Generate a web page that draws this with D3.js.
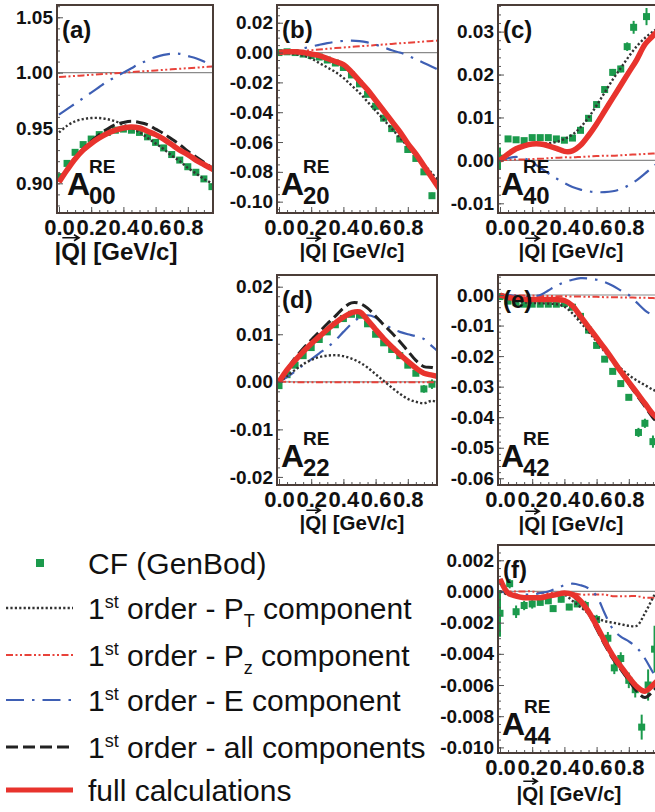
<!DOCTYPE html>
<html>
<head>
  <meta charset="utf-8">
  <title>A^RE coefficients vs |Q|</title>
  <script src="https://cdn.jsdelivr.net/npm/d3@7"></script>
  <style>
    body { margin: 0; background: #fff; }
    svg { display: block; }
  </style>
</head>
<body>
<div id="container"></div>
<script>
// q grid for the model curves [GeV/c]
const qGrid = [0, 0.05, 0.1, 0.15, 0.2, 0.25, 0.3, 0.35, 0.4, 0.45, 0.5, 0.55, 0.6, 0.65, 0.7, 0.75, 0.8, 0.85, 0.9, 0.95, 1.0];
const cfGrid = [0, 0.05, 0.1, 0.15, 0.2, 0.25, 0.3, 0.35, 0.4, 0.45, 0.5, 0.55, 0.6, 0.65, 0.7, 0.75, 0.8, 0.85, 0.9, 0.95];
const xTicks = [0, 0.2, 0.4, 0.6, 0.8];
const xTickLabels = ["0.0", "0.2", "0.4", "0.6", "0.8"];

// (a) A00
const aFull = [0.901, 0.912, 0.922, 0.930, 0.936, 0.941, 0.945, 0.948, 0.950, 0.951, 0.950, 0.947, 0.944, 0.940, 0.935, 0.930, 0.926, 0.921, 0.917, 0.913, 0.909];
const aAll  = [0.902, 0.913, 0.923, 0.931, 0.938, 0.944, 0.949, 0.953, 0.955, 0.956, 0.955, 0.953, 0.949, 0.945, 0.940, 0.935, 0.929, 0.924, 0.919, 0.914, 0.909];
const aPt   = [0.946, 0.952, 0.956, 0.958, 0.959, 0.959, 0.958, 0.956, 0.953, 0.950, 0.946, 0.941, 0.936, 0.931, 0.925, 0.920, 0.914, 0.909, 0.904, 0.900, 0.896];
const aPz   = [0.996, 0.9965, 0.997, 0.9975, 0.998, 0.9985, 0.999, 0.9995, 1.000, 1.0005, 1.001, 1.0015, 1.002, 1.0025, 1.003, 1.0035, 1.004, 1.0045, 1.005, 1.0055, 1.006];
const aE    = [0.962, 0.967, 0.972, 0.977, 0.982, 0.987, 0.992, 0.996, 1.000, 1.004, 1.008, 1.011, 1.014, 1.016, 1.017, 1.017, 1.015, 1.013, 1.010, 1.006, 1.002];
const aCf    = [0.906, 0.918, 0.928, 0.935, 0.940, 0.944, 0.946, 0.948, 0.949, 0.948, 0.946, 0.942, 0.937, 0.932, 0.926, 0.921, 0.915, 0.910, 0.904, 0.897];
const aCfErr = [0.002, 0.001, 0.001, 0.001, 0.001, 0.001, 0.001, 0.001, 0.001, 0.001, 0.001, 0.001, 0.001, 0.001, 0.001, 0.001, 0.001, 0.001, 0.0015, 0.002];
const aTicks = [0.90, 0.95, 1.00, 1.05];

// (b) A20
const bFull = [0.000, 0.0005, 0.0005, 0.000, -0.001, -0.002, -0.004, -0.006, -0.008, -0.013, -0.019, -0.025, -0.032, -0.039, -0.046, -0.053, -0.061, -0.068, -0.076, -0.084, -0.092];
const bAll  = [0.000, 0.0004, 0.0004, -0.0002, -0.0012, -0.0025, -0.0045, -0.0065, -0.009, -0.0135, -0.0195, -0.0255, -0.0325, -0.0395, -0.0465, -0.0535, -0.0612, -0.0685, -0.0762, -0.0842, -0.0922];
const bPt   = [0.000, 0.000, -0.001, -0.002, -0.004, -0.007, -0.010, -0.013, -0.017, -0.022, -0.027, -0.033, -0.039, -0.045, -0.051, -0.057, -0.063, -0.069, -0.075, -0.081, -0.087];
const bPz   = [0.000, 0.0004, 0.0008, 0.0012, 0.0016, 0.002, 0.0025, 0.003, 0.0034, 0.0038, 0.0042, 0.0046, 0.005, 0.0054, 0.0058, 0.0062, 0.0066, 0.007, 0.0074, 0.0078, 0.0082];
const bE    = [0.000, 0.0005, 0.0015, 0.0028, 0.004, 0.0052, 0.0063, 0.0072, 0.0078, 0.008, 0.0077, 0.0068, 0.0053, 0.0035, 0.0015, 0.000, -0.002, -0.0045, -0.007, -0.0095, -0.012];
const bCf    = [0.000, 0.0005, 0.000, -0.001, -0.002, -0.003, -0.005, -0.007, -0.010, -0.015, -0.021, -0.028, -0.036, -0.044, -0.051, -0.058, -0.065, -0.071, -0.080, -0.096];
const bCfErr = [0.001, 0.001, 0.001, 0.001, 0.001, 0.001, 0.001, 0.001, 0.001, 0.001, 0.001, 0.001, 0.001, 0.001, 0.001, 0.001, 0.001, 0.001, 0.0015, 0.002];
const bTicks = [-0.10, -0.08, -0.06, -0.04, -0.02, 0.00, 0.02];

// (c) A40
const cFull = [0.000, 0.0015, 0.0027, 0.0034, 0.0038, 0.0038, 0.0034, 0.0028, 0.0021, 0.0022, 0.0035, 0.0058, 0.0085, 0.0115, 0.0145, 0.0175, 0.0205, 0.0235, 0.027, 0.029, 0.031];
const cAll  = [0.0001, 0.0016, 0.0028, 0.0035, 0.0039, 0.0039, 0.0035, 0.0029, 0.0023, 0.0024, 0.0037, 0.006, 0.0088, 0.0118, 0.0148, 0.0178, 0.0208, 0.0238, 0.0268, 0.0292, 0.0312];
const cPt   = [0.0003, 0.0015, 0.0026, 0.0034, 0.0038, 0.0039, 0.004, 0.0043, 0.005, 0.006, 0.0077, 0.01, 0.0128, 0.0158, 0.0188, 0.0215, 0.0242, 0.0266, 0.0285, 0.03, 0.0312];
const cPz   = [0.000, 0.0001, 0.0002, 0.0002, 0.0003, 0.0004, 0.0005, 0.0006, 0.0007, 0.0007, 0.0008, 0.0009, 0.001, 0.0011, 0.0011, 0.0012, 0.0013, 0.0014, 0.0015, 0.0016, 0.0017];
const cE    = [0.000, 0.0005, 0.0008, 0.0005, -0.0005, -0.0017, -0.003, -0.0042, -0.0053, -0.0062, -0.0068, -0.0072, -0.0074, -0.0074, -0.0072, -0.0067, -0.0058, -0.0046, -0.0031, -0.0015, 0.000];
const cCfQ   = [0.0, 0.05, 0.1, 0.15, 0.2, 0.25, 0.3, 0.35, 0.4, 0.45, 0.5, 0.55, 0.6, 0.65, 0.7, 0.75, 0.79, 0.83, 0.91];
const cCf    = [0.0005, 0.005, 0.0048, 0.0046, 0.0053, 0.0053, 0.0053, 0.005, 0.0047, 0.0052, 0.007, 0.0098, 0.013, 0.0165, 0.0205, 0.0213, 0.0265, 0.031, 0.0335];
const cCfErr = [0.0025, 0.0005, 0.0004, 0.0004, 0.0004, 0.0004, 0.0004, 0.0004, 0.0004, 0.0004, 0.0005, 0.0005, 0.0006, 0.0006, 0.0008, 0.0008, 0.001, 0.0015, 0.002];
const cTicks = [-0.01, 0.00, 0.01, 0.02, 0.03];

// (d) A22
const dFull = [0.000, 0.0025, 0.0045, 0.0063, 0.008, 0.0095, 0.011, 0.0124, 0.0136, 0.0145, 0.0147, 0.013, 0.011, 0.0091, 0.0074, 0.0058, 0.0043, 0.0029, 0.0018, 0.0014, 0.001];
const dAll  = [0.000, 0.0026, 0.005, 0.007, 0.0088, 0.0105, 0.0122, 0.0138, 0.0155, 0.0166, 0.0165, 0.0155, 0.0138, 0.012, 0.0103, 0.0085, 0.0065, 0.0045, 0.0032, 0.003, 0.0025];
const dPt   = [0.000, 0.0012, 0.0025, 0.0037, 0.0046, 0.0052, 0.0055, 0.0056, 0.0054, 0.0049, 0.0041, 0.003, 0.0016, 0.0002, -0.0012, -0.0025, -0.0036, -0.0042, -0.0045, -0.004, -0.0045];
const dPz   = [0.000, 0.000, -0.0001, -0.0001, -0.0001, -0.0001, -0.0001, -0.0001, -0.0001, -0.0001, -0.0001, -0.0001, -0.0001, -0.0001, -0.0001, -0.0001, -0.0001, -0.0001, -0.0001, -0.0001, -0.0001];
const dE    = [0.000, 0.001, 0.0022, 0.0035, 0.0047, 0.006, 0.0072, 0.0087, 0.0105, 0.0122, 0.0135, 0.014, 0.0135, 0.0123, 0.0112, 0.0105, 0.01, 0.0096, 0.009, 0.0075, 0.006];
const dCf    = [-0.0008, 0.0015, 0.0035, 0.0055, 0.0072, 0.0089, 0.0105, 0.012, 0.0133, 0.0142, 0.014, 0.0122, 0.01, 0.0082, 0.0068, 0.0055, 0.0035, 0.0018, -0.0015, -0.0005];
const dCfErr = [0.0007, 0.0003, 0.0003, 0.0003, 0.0003, 0.0003, 0.0003, 0.0003, 0.0003, 0.0003, 0.0003, 0.0003, 0.0003, 0.0003, 0.0004, 0.0004, 0.0005, 0.0006, 0.0008, 0.001];
const dTicks = [-0.02, -0.01, 0.00, 0.01, 0.02];

// (e) A42
const eFull = [0.000, -0.0008, -0.0012, -0.0014, -0.0015, -0.0015, -0.0015, -0.0015, -0.0018, -0.0035, -0.007, -0.0105, -0.014, -0.0175, -0.0212, -0.025, -0.0285, -0.032, -0.0355, -0.039, -0.041];
const eAll  = [0.000, -0.0009, -0.0013, -0.0015, -0.0016, -0.0016, -0.0016, -0.0016, -0.0019, -0.0036, -0.0071, -0.0106, -0.0141, -0.0177, -0.0215, -0.0254, -0.0291, -0.0328, -0.0365, -0.0402, -0.043];
const ePt   = [0.000, -0.0012, -0.002, -0.0024, -0.0026, -0.0027, -0.0028, -0.003, -0.0038, -0.006, -0.009, -0.012, -0.0152, -0.0185, -0.0215, -0.024, -0.0262, -0.028, -0.0295, -0.031, -0.032];
const ePz   = [0.000, -0.0001, -0.0001, -0.0002, -0.0002, -0.0003, -0.0003, -0.0004, -0.0004, -0.0005, -0.0005, -0.0006, -0.0006, -0.0007, -0.0007, -0.0008, -0.0008, -0.0009, -0.0009, -0.001, -0.0011];
const eE    = [0.000, 0.000, -0.0003, -0.0005, -0.0004, 0.000, 0.0015, 0.003, 0.0042, 0.005, 0.0055, 0.0054, 0.005, 0.0042, 0.003, 0.0015, 0.000, -0.0025, -0.005, -0.0068, -0.0085];
const eCfQ   = [0.0, 0.05, 0.1, 0.15, 0.2, 0.25, 0.3, 0.35, 0.4, 0.45, 0.5, 0.55, 0.6, 0.65, 0.7, 0.75, 0.8, 0.86, 0.9, 0.95];
const eCf    = [-0.0005, -0.002, -0.0025, -0.003, -0.003, -0.003, -0.003, -0.003, -0.0028, -0.004, -0.007, -0.0115, -0.0165, -0.021, -0.025, -0.029, -0.0335, -0.045, -0.042, -0.048];
const eCfErr = [0.0005, 0.0004, 0.0004, 0.0004, 0.0004, 0.0004, 0.0004, 0.0004, 0.0004, 0.0004, 0.0005, 0.0005, 0.0005, 0.0006, 0.0006, 0.0007, 0.0008, 0.0015, 0.0015, 0.002];
const eTicks = [-0.06, -0.05, -0.04, -0.03, -0.02, -0.01, 0.00];

// (f) A44
const fFull = [0.0008, -0.0001, -0.0003, -0.0004, -0.0004, -0.0004, -0.0003, -0.0002, -0.0001, -0.0002, -0.0006, -0.0013, -0.0022, -0.0032, -0.0041, -0.0048, -0.0055, -0.0061, -0.0064, -0.006, -0.0055];
const fAll  = [0.0008, -0.0001, -0.0003, -0.0004, -0.0004, -0.0004, -0.0003, -0.0002, -0.0001, -0.0003, -0.0007, -0.0014, -0.0024, -0.0034, -0.0043, -0.005, -0.0057, -0.0064, -0.0068, -0.0064, -0.0058];
const fPt   = [0.000, -0.0002, -0.0003, -0.0003, -0.0003, -0.0003, -0.0003, -0.0002, -0.0002, -0.0006, -0.001, -0.0014, -0.0017, -0.0019, -0.002, -0.0021, -0.0022, -0.0022, -0.0014, -0.0004, 0.0005];
const fPz   = [0.000, 0.000, 0.000, 0.000, 0.000, -0.0001, -0.0001, -0.0001, -0.0001, -0.0001, -0.0002, -0.0002, -0.0002, -0.0002, -0.0003, -0.0003, -0.0003, -0.0003, -0.0004, -0.0004, -0.0004];
const fE    = [0.000, -0.0001, -0.0002, -0.0002, -0.0002, -0.0001, 0.000, 0.0002, 0.0004, 0.0005, 0.0004, 0.0002, -0.0003, -0.0014, -0.0024, -0.0029, -0.0032, -0.0036, -0.0043, -0.0052, -0.006];
const fCfQ   = [0.0, 0.06, 0.1, 0.15, 0.2, 0.25, 0.3, 0.33, 0.38, 0.43, 0.48, 0.53, 0.6, 0.67, 0.71, 0.75, 0.8, 0.84, 0.88, 0.92, 0.96];
const fCf    = [-0.0014, 0.0005, -0.0013, -0.0009, -0.0008, -0.0007, -0.0006, -0.0011, -0.0005, -0.001, -0.0008, -0.0009, -0.0018, -0.003, -0.0049, -0.0043, -0.0057, -0.0063, -0.0087, -0.006, -0.0037];
const fCfErr = [0.0015, 0.0003, 0.0004, 0.0003, 0.0003, 0.0002, 0.0002, 0.0002, 0.0002, 0.0002, 0.0002, 0.0003, 0.0003, 0.0004, 0.0004, 0.0004, 0.0005, 0.0005, 0.0008, 0.001, 0.0015];
const fTicks = [-0.010, -0.008, -0.006, -0.004, -0.002, 0.000, 0.002];

// ---- layout / style ----
const W = 655, H = 812;
const font = "'Liberation Sans', Arial, Helvetica, sans-serif";
const pxPerQ = 161;

const lineStyle = {
  pz:   { stroke: "#e8423a", width: 2,   dash: "7,2.5,2,2.5,2,2.5" },
  e:    { stroke: "#3e5fb4", width: 2.2, dash: "18,8,2.5,8" },
  pt:   { stroke: "#333",    width: 2.4, dash: "2.2,2.2" },
  all:  { stroke: "#222",    width: 3,   dash: "12,5" },
  full: { stroke: "#e8332d", width: 5.5, dash: null }
};
const cfColor = "#1b9a4c";

const panels = [
  { id: "a", letter: "(a)", sub: "00", box: [57, 5, 213, 213], yDomain: [0.8732, 1.0611], yTicks: aTicks, yMinor: 0.01, fmt: ".2f", ref: 1.0,
    series: { pz: aPz, e: aE, pt: aPt, all: aAll, full: aFull }, cfQ: cfGrid, cf: aCf, cfErr: aCfErr, titleX: 116, titleSize: 24, titleY: 260, aX: 67 },
  { id: "b", letter: "(b)", sub: "20", box: [277, 5, 438, 213], yDomain: [-0.1076, 0.0319], yTicks: bTicks, yMinor: 0.005, fmt: ".2f", ref: 0,
    series: { pz: bPz, e: bE, pt: bPt, all: bAll, full: bFull }, cfQ: cfGrid, cf: bCf, cfErr: bCfErr, titleX: 352, titleSize: 20.5, titleY: 258, aX: 281 },
  { id: "c", letter: "(c)", sub: "40", box: [498, 5, 664, 213], yDomain: [-0.01226, 0.0362], yTicks: cTicks, yMinor: 0.002, fmt: ".2f", ref: 0,
    series: { pz: cPz, e: cE, pt: cPt, all: cAll, full: cFull }, cfQ: cCfQ, cf: cCf, cfErr: cCfErr, titleX: 571, titleSize: 20.5, titleY: 258, aX: 501 },
  { id: "d", letter: "(d)", sub: "22", box: [277, 275, 437, 485], yDomain: [-0.0217, 0.02246], yTicks: dTicks, yMinor: 0.002, fmt: ".2f", ref: 0,
    series: { pz: dPz, e: dE, pt: dPt, all: dAll, full: dFull }, cfQ: cfGrid, cf: dCf, cfErr: dCfErr, titleX: 352, titleSize: 20.5, titleY: 530, aX: 281 },
  { id: "e", letter: "(e)", sub: "42", box: [498, 275, 664, 485], yDomain: [-0.0622, 0.00655], yTicks: eTicks, yMinor: 0.002, fmt: ".2f", ref: 0,
    series: { pz: ePz, e: eE, pt: ePt, all: eAll, full: eFull }, cfQ: eCfQ, cf: eCf, cfErr: eCfErr, titleX: 571, titleSize: 20.5, titleY: 531, aX: 501 },
  { id: "f", letter: "(f)", sub: "44", box: [498, 545, 664, 753], yDomain: [-0.01036, 0.00298], yTicks: fTicks, yMinor: 0.0005, fmt: ".3f", ref: 0,
    series: { pz: fPz, e: fE, pt: fPt, all: fAll, full: fFull }, cfQ: fCfQ, cf: fCf, cfErr: fCfErr, titleX: 569, titleSize: 20.5, titleY: 801, aX: 502 }
];

const svg = d3.select("#container")
  .append("svg")
  .attr("width", W)
  .attr("height", H)
  .attr("font-family", font);

svg.append("rect").attr("width", W).attr("height", H).attr("fill", "#fff");

panels.forEach(p => {
  const [x0, y0, x1, y1] = p.box;
  const x = d3.scaleLinear().domain([-2 / pxPerQ, (x1 - x0 - 2) / pxPerQ]).range([x0, x1]);
  const y = d3.scaleLinear().domain(p.yDomain).range([y1, y0]);
  const fmt = d => d3.format(p.fmt)(d).replace("\u2212", "-");

  const g = svg.append("g").attr("class", "panel-" + p.id);

  g.append("clipPath").attr("id", "clip-" + p.id)
    .append("rect").attr("x", x0).attr("y", y0).attr("width", x1 - x0).attr("height", y1 - y0);

  const plot = g.append("g").attr("clip-path", `url(#clip-${p.id})`);

  // reference line
  plot.append("line")
    .attr("x1", x0).attr("x2", x1)
    .attr("y1", y(p.ref)).attr("y2", y(p.ref))
    .attr("stroke", "#8a8a8a").attr("stroke-width", 1.2);

  // CF points with error bars
  const pts = p.cf.map((v, i) => ({ q: p.cfQ[i], v: v, err: p.cfErr[i] }));
  plot.append("g").selectAll("line")
    .data(pts)
    .join("line")
    .attr("x1", d => x(d.q)).attr("x2", d => x(d.q))
    .attr("y1", d => y(d.v - d.err)).attr("y2", d => y(d.v + d.err))
    .attr("stroke", cfColor).attr("stroke-width", 2);
  plot.append("g").selectAll("rect")
    .data(pts)
    .join("rect")
    .attr("x", d => x(d.q) - 3.5).attr("y", d => y(d.v) - 3.5)
    .attr("width", 7).attr("height", 7)
    .attr("fill", cfColor);

  // model curves
  const line = d3.line()
    .x((d, i) => x(qGrid[i]))
    .y(d => y(d))
    .curve(d3.curveCatmullRom.alpha(0.5));

  ["pz", "e", "pt", "all", "full"].forEach(k => {
    const s = lineStyle[k];
    plot.append("path")
      .datum(p.series[k])
      .attr("d", line)
      .attr("fill", "none")
      .attr("stroke", s.stroke)
      .attr("stroke-width", s.width)
      .attr("stroke-dasharray", s.dash)
      .attr("stroke-linejoin", "round");
  });

  // axes: minor + major inward ticks
  const [lo, hi] = p.yDomain;
  const yMinor = d3.range(Math.ceil(lo / p.yMinor), Math.floor(hi / p.yMinor) + 1).map(k => k * p.yMinor);
  const xMinor = d3.range(0, Math.floor((x1 - x0 - 2) / pxPerQ / 0.05) + 1).map(k => k * 0.05);

  g.append("g")
    .attr("transform", `translate(${x0},0)`)
    .attr("color", "#555")
    .call(d3.axisLeft(y).tickValues(yMinor).tickSize(-3).tickFormat(""))
    .call(s => s.select(".domain").remove());

  g.append("g")
    .attr("transform", `translate(${x0},0)`)
    .attr("color", "#555")
    .call(d3.axisLeft(y).tickValues(p.yTicks).tickSize(-6).tickPadding(4).tickFormat(fmt))
    .call(s => s.select(".domain").remove())
    .attr("font-family", font)
    .attr("font-size", 19)
    .attr("font-weight", "bold")
    .selectAll("text").attr("fill", "#111");

  g.append("g")
    .attr("transform", `translate(0,${y1})`)
    .attr("color", "#555")
    .call(d3.axisBottom(x).tickValues(xMinor).tickSize(-3).tickFormat(""))
    .call(s => s.select(".domain").remove());

  g.append("g")
    .attr("transform", `translate(0,${y1})`)
    .attr("color", "#555")
    .call(d3.axisBottom(x).tickValues(xTicks).tickSize(-6).tickPadding(6.5).tickFormat((d, i) => xTickLabels[i]))
    .call(s => s.select(".domain").remove())
    .attr("font-family", font)
    .attr("font-size", 22)
    .attr("font-weight", "bold")
    .selectAll("text").attr("fill", "#111");

  // frame
  g.append("rect")
    .attr("x", x0).attr("y", y0)
    .attr("width", x1 - x0).attr("height", y1 - y0)
    .attr("fill", "none")
    .attr("stroke", "#4b3d38")
    .attr("stroke-width", 2);

  // panel letter
  g.append("text")
    .attr("x", x0 + 5).attr("y", y0 + 33)
    .attr("font-size", 24).attr("font-weight", "bold").attr("fill", "#111")
    .text(p.letter);

  // A^RE_lm label
  const ay = y1 - 18;
  g.append("text").attr("x", p.aX).attr("y", ay)
    .attr("font-size", 32).attr("font-weight", "bold").attr("fill", "#111").text("A");
  g.append("text").attr("x", p.aX + 22).attr("y", ay - 22)
    .attr("font-size", 19).attr("font-weight", "bold").attr("fill", "#111").text("RE");
  g.append("text").attr("x", p.aX + 22).attr("y", ay + 9)
    .attr("font-size", 24).attr("font-weight", "bold").attr("fill", "#111").text(p.sub);

  // axis title with vector arrow over Q
  const title = g.append("text")
    .attr("x", p.titleX).attr("y", p.titleY)
    .attr("text-anchor", "middle")
    .attr("font-size", p.titleSize).attr("font-weight", "bold").attr("fill", "#111")
    .text("|Q| [GeV/c]");
  const node = title.node();
  const total = node.getComputedTextLength();
  const start = p.titleX - total / 2;
  const qL = start + node.getSubStringLength(0, 1);
  const qR = qL + node.getSubStringLength(1, 1);
  const ary = p.titleY - p.titleSize * 0.72 - 5;
  g.append("path")
    .attr("d", `M${qL + 1},${ary}H${qR - 2}M${qR - 6},${ary - 3}L${qR - 1},${ary}L${qR - 6},${ary + 3}`)
    .attr("fill", "none").attr("stroke", "#111").attr("stroke-width", 1.6);
});

// ---- legend ----
const legendKeys = ["cf", "pt", "pz", "e", "all", "full"];
const legendTexts = [
  [{ t: "CF (GenBod)" }],
  [{ t: "1" }, { t: "st", sup: true }, { t: " order - P" }, { t: "T", sub: true }, { t: " component" }],
  [{ t: "1" }, { t: "st", sup: true }, { t: " order - P" }, { t: "z", sub: true }, { t: " component" }],
  [{ t: "1" }, { t: "st", sup: true }, { t: " order - E component" }],
  [{ t: "1" }, { t: "st", sup: true }, { t: " order - all components" }],
  [{ t: "full calculations" }]
];
const legendY = [563, 608, 655, 700, 747, 790];

const legend = svg.append("g").attr("class", "legend");
legendKeys.forEach((k, i) => {
  const ly = legendY[i];
  if (k === "cf") {
    legend.append("rect").attr("x", 36).attr("y", ly - 4).attr("width", 8).attr("height", 8).attr("fill", cfColor);
  } else {
    const s = lineStyle[k];
    legend.append("line")
      .attr("x1", 6).attr("x2", 73).attr("y1", ly).attr("y2", ly)
      .attr("stroke", s.stroke)
      .attr("stroke-width", k === "full" ? 5 : s.width)
      .attr("stroke-dasharray", s.dash);
  }
  const txt = legend.append("text")
    .attr("x", 88).attr("y", ly + 11)
    .attr("font-size", 30).attr("fill", "#111");
  let shift = 0;
  legendTexts[i].forEach(part => {
    const target = part.sup ? -11 : part.sub ? 8 : 0;
    txt.append("tspan")
      .attr("dy", target - shift)
      .attr("font-size", part.sup || part.sub ? 18 : 30)
      .text(part.t);
    shift = target;
  });
});
</script>
</body>
</html>
